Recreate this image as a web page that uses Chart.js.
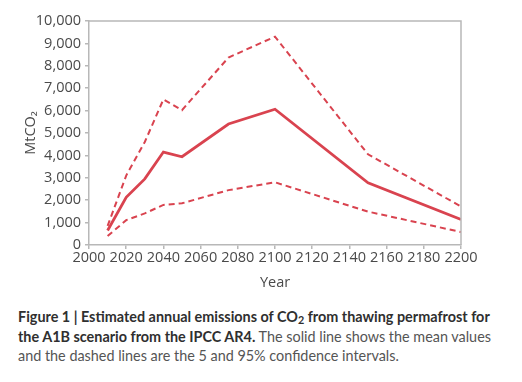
<!DOCTYPE html>
<html>
<head>
<meta charset="utf-8">
<script src="https://cdn.jsdelivr.net/npm/chart.js@4"></script>
<style>
  html, body { margin: 0; padding: 0; background: #fff; }
  #wrap { position: relative; width: 522px; height: 292px; }
  #caption {
    position: absolute; left: 18px; top: 307px; width: 504px; white-space: nowrap;
    font-family: Lato, "Open Sans", sans-serif; font-size: 14.4px; line-height: 19.5px;
    color: #555;
  }
  #caption b { color: #2f2f2f; font-weight: 700; }
  sub { font-size: 75%; line-height: 0; vertical-align: -0.2em; }
</style>
</head>
<body>
<div id="wrap"><canvas id="c" width="522" height="292"></canvas></div>
<div id="caption"><b>Figure 1 | Estimated annual emissions of CO<sub>2</sub> from thawing permafrost for</b><br><b>the A1B scenario from the IPCC AR4.</b> The solid line shows the mean values<br>and the dashed lines are the 5 and 95% confidence intervals.</div>
<script>
const years = [2010, 2020, 2030, 2040, 2050, 2075, 2100, 2150, 2200];
const meanValues = [650, 2130, 2950, 4150, 3940, 5400, 6060, 2780, 1140];
const upperValues = [850, 3100, 4600, 6500, 6020, 8370, 9300, 4050, 1720];
const lowerValues = [400, 1110, 1410, 1790, 1860, 2450, 2800, 1490, 580];
const xTicks = [2000, 2020, 2040, 2060, 2080, 2100, 2120, 2140, 2160, 2180, 2200];
const yTicks = [0, 1000, 2000, 3000, 4000, 5000, 6000, 7000, 8000, 9000, 10000];

const red = '#d9434f';
const pts = vals => years.map((y, i) => ({ x: y, y: vals[i] }));

const boxPlugin = {
  id: 'box',
  afterDatasetsDraw(chart) {
    const a = chart.chartArea, ctx = chart.ctx;
    ctx.save();
    ctx.strokeStyle = '#b8b8b8';
    ctx.lineWidth = 1.5;
    ctx.beginPath();
    ctx.moveTo(a.left, a.top);
    ctx.lineTo(a.right, a.top);
    ctx.lineTo(a.right, a.bottom);
    ctx.stroke();
    ctx.restore();
  }
};

const font = { family: '"Open Sans"', size: 14.5 };

new Chart(document.getElementById('c'), {
  type: 'line',
  data: {
    datasets: [
      { label: '95%', data: pts(upperValues), borderColor: red, borderWidth: 2, borderDash: [6, 4], pointRadius: 0, tension: 0 },
      { label: 'Mean', data: pts(meanValues), borderColor: red, borderWidth: 2.8, pointRadius: 0, tension: 0 },
      { label: '5%', data: pts(lowerValues), borderColor: red, borderWidth: 2, borderDash: [6, 4], pointRadius: 0, tension: 0 }
    ]
  },
  options: {
    responsive: false,
    animation: false,
    layout: { padding: { left: 22, right: 61, top: 21, bottom: 0 } },
    plugins: { legend: { display: false }, tooltip: { enabled: false } },
    scales: {
      x: {
        type: 'linear', min: 2000, max: 2200,
        afterBuildTicks: s => { s.ticks = xTicks.map(v => ({ value: v })); },
        afterFit: s => { s.height = 47; },
        ticks: { color: '#4a4a4a', font, padding: 0, maxRotation: 0, callback: v => String(v) },
        grid: { drawOnChartArea: false, drawTicks: true, tickLength: 4, color: '#b8b8b8', lineWidth: 1.5 },
        border: { color: '#b8b8b8', width: 1.5 },
        title: { display: true, text: 'Year', color: '#4a4a4a', font, padding: { top: 0, bottom: 0 } }
      },
      y: {
        min: 0, max: 10000,
        afterBuildTicks: s => { s.ticks = yTicks.map(v => ({ value: v })); },
        afterFit: s => { s.width = 67; },
        ticks: { color: '#4a4a4a', font, padding: 4, callback: v => v.toLocaleString('en-US') },
        grid: { drawOnChartArea: false, drawTicks: true, tickLength: 4, color: '#b8b8b8', lineWidth: 1.5 },
        border: { color: '#b8b8b8', width: 1.5 },
        title: { display: true, text: 'MtCO₂', color: '#4a4a4a', font, padding: { top: 0, bottom: 0 } }
      }
    }
  },
  plugins: [boxPlugin]
});
</script>
</body>
</html>
